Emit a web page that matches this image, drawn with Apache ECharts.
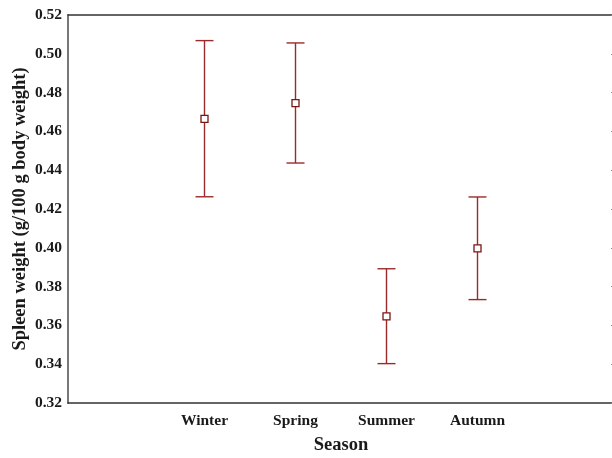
<!DOCTYPE html>
<html>
<head>
<meta charset="utf-8">
<script src="https://cdn.jsdelivr.net/npm/echarts@6/dist/echarts.min.js"></script>
<style>
  html, body { margin: 0; padding: 0; background: #fff; }
  #chart { width: 612px; height: 458px; }
</style>
</head>
<body>
<div id="chart"></div>
<script>
// empty slots at both ends, as in the original plot
const categories = ['', 'Winter', 'Spring', 'Summer', 'Autumn', '']
const seasons = ['Winter', 'Spring', 'Summer', 'Autumn']
const means = [0.4665, 0.4746, 0.3647, 0.3997]
const lower = [0.4263, 0.4437, 0.3403, 0.3733]
const upper = [0.5068, 0.5056, 0.3892, 0.4262]
const yTicks = { min: 0.32, max: 0.52, step: 0.02 }

const barColor = '#9b2a2a'
const font = 'Liberation Serif'

const chart = echarts.init(document.getElementById('chart'))

const errData = seasons.map((s, i) => [s, lower[i], upper[i]])
const meanData = seasons.map((s, i) => [s, means[i]])

chart.setOption({
  animation: false,
  grid: { left: 68, right: -2, top: 15, bottom: 55, outerBoundsMode: 'none', containLabel: false },
  xAxis: [
    {
      type: 'category',
      data: categories,
      boundaryGap: true,
      name: 'Season',
      nameLocation: 'middle',
      nameGap: 33,
      nameMoveOverlap: false,
      nameTextStyle: { fontFamily: font, fontWeight: 'bold', fontSize: 18.5, color: '#1a1a1a' },
      axisLine: { lineStyle: { color: '#333', width: 1.5 } },
      axisTick: { inside: true, alignWithLabel: true, length: 4, lineStyle: { color: '#666' } },
      axisLabel: { margin: 10, fontFamily: font, fontWeight: 'bold', fontSize: 15.5, color: '#1a1a1a' },
      splitLine: { show: false }
    },
    {
      type: 'category',
      data: categories,
      position: 'top',
      boundaryGap: true,
      axisLine: { lineStyle: { color: '#333', width: 1.5 } },
      axisTick: { inside: true, alignWithLabel: true, length: 4, lineStyle: { color: '#666' } },
      axisLabel: { show: false },
      splitLine: { show: false }
    }
  ],
  yAxis: [
    {
      type: 'value',
      min: yTicks.min,
      max: yTicks.max,
      interval: yTicks.step,
      name: 'Spleen weight (g/100 g body weight)',
      nameLocation: 'middle',
      nameGap: 38,
      nameMoveOverlap: false,
      nameTextStyle: { fontFamily: font, fontWeight: 'bold', fontSize: 18.5, color: '#1a1a1a' },
      axisLine: { show: true, lineStyle: { color: '#777', width: 2 } },
      axisTick: { show: false },
      axisLabel: {
        margin: 6,
        fontFamily: font, fontWeight: 'bold', fontSize: 15.5, color: '#1a1a1a',
        formatter: v => v.toFixed(2)
      },
      splitLine: { show: false }
    },
    {
      type: 'value',
      position: 'right',
      min: yTicks.min,
      max: yTicks.max,
      interval: yTicks.step,
      axisLine: { show: true, lineStyle: { color: '#333', width: 1.5 } },
      axisTick: { show: true, inside: true, length: 3, lineStyle: { color: '#888' } },
      axisLabel: { show: false },
      splitLine: { show: false }
    }
  ],
  series: [
    {
      type: 'custom',
      name: 'error',
      data: errData,
      z: 2,
      renderItem: (params, api) => {
        const x = api.value(0)
        const lo = api.coord([x, api.value(1)])
        const hi = api.coord([x, api.value(2)])
        const half = 9
        const style = { stroke: barColor, lineWidth: 1.4 }
        return {
          type: 'group',
          children: [
            { type: 'line', shape: { x1: lo[0], y1: lo[1], x2: hi[0], y2: hi[1] }, style },
            { type: 'line', shape: { x1: hi[0] - half, y1: hi[1], x2: hi[0] + half, y2: hi[1] }, style },
            { type: 'line', shape: { x1: lo[0] - half, y1: lo[1], x2: lo[0] + half, y2: lo[1] }, style }
          ]
        }
      }
    },
    {
      type: 'scatter',
      name: 'mean',
      data: meanData,
      symbol: 'rect',
      symbolSize: 7,
      z: 3,
      itemStyle: { color: '#fff', borderColor: '#7a1515', borderWidth: 1.3, opacity: 1 }
    }
  ]
})
</script>
</body>
</html>
